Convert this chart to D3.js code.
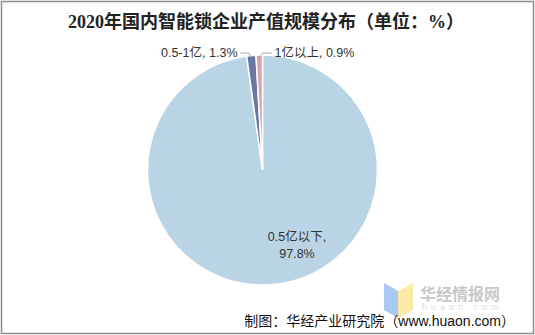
<!DOCTYPE html>
<html>
<head>
<meta charset="utf-8">
<script src="https://cdn.jsdelivr.net/npm/d3@7"></script>
<style>
  body { margin: 0; background: #fff; }
  svg text { font-family: "Liberation Sans", "Noto Sans CJK SC", sans-serif; }
</style>
</head>
<body>
<div id="chart"></div>
<script>
// chart data
let categories = ['0.5亿以下', '0.5-1亿', '1亿以上'];
let shares = [97.8, 1.3, 0.9];
let sliceColors = ['#b9d4e5', '#6b77a3', '#d7a5aa'];

let svgWidth = 535;
let svgHeight = 335;

let svg = d3.select('#chart')
            .append('svg')
            .attr('width', svgWidth)
            .attr('height', svgHeight);

// outer frame
svg.append('rect')
   .attr('x', 1.5).attr('y', 1.5)
   .attr('width', svgWidth - 3).attr('height', svgHeight - 3)
   .attr('fill', '#fff')
   .attr('stroke', '#8c8c8c')
   .attr('stroke-width', 1.5);

// title
svg.append('text')
   .attr('x', 266).attr('y', 28)
   .attr('text-anchor', 'middle')
   .style('font-family', '"Liberation Serif", "Noto Sans CJK SC", serif')
   .style('font-size', '18px')
   .style('font-weight', 'bold')
   .attr('fill', '#222')
   .text('2020年国内智能锁企业产值规模分布（单位：%）');

// watermark
let wm = svg.append('g');
wm.append('path').attr('d', 'M384,283 L398,291 L398,318 L384,310 Z').attr('fill', '#a9c9f5');
wm.append('path').attr('d', 'M398,291 L413,283 L413,310 L398,318 Z').attr('fill', '#fbeaa6');
wm.append('text')
  .attr('x', 420).attr('y', 300)
  .style('font-size', '16px').style('font-weight', 'bold')
  .attr('fill', '#c8c8c8')
  .text('华经情报网');
wm.append('text')
  .attr('x', 422).attr('y', 310)
  .style('font-size', '9px')
  .style('letter-spacing', '4px')
  .attr('fill', '#dcdcdc')
  .text('huaon.com');

let cx = 262.5, cy = 170, radius = 115;

let pie = d3.pie().sort(null).value(d => d);
let arc = d3.arc().innerRadius(0).outerRadius(radius);

let pieGroup = svg.append('g')
                  .attr('transform', `translate(${cx}, ${cy})`);

let arcs = pie(shares);

pieGroup.selectAll('path')
        .data(arcs)
        .enter()
        .append('path')
        .attr('d', arc)
        .attr('fill', (d, i) => sliceColors[i])
        .attr('stroke', '#fff')
        .attr('stroke-width', 1.5);

// label inside the big slice
let big = svg.append('text')
             .attr('text-anchor', 'middle')
             .style('font-size', '12.5px')
             .attr('fill', '#333');
big.append('tspan').attr('x', 297).attr('y', 241).text(categories[0] + ',');
big.append('tspan').attr('x', 297).attr('y', 258).text(shares[0] + '%');

// outside labels with leader lines
let outer = d3.arc().innerRadius(radius - 2).outerRadius(radius - 2);
let leaders = [
  {i: 1, elbow: [-14, -117], end: [-22, -117], anchor: 'end', tx: -25},
  {i: 2, elbow: [0, -117], end: [9, -117], anchor: 'start', tx: 12}
];
leaders.forEach(l => {
  let p = outer.centroid(arcs[l.i]);
  pieGroup.append('polyline')
          .attr('points', [p, l.elbow, l.end].map(q => q.join(',')).join(' '))
          .attr('fill', 'none')
          .attr('stroke', '#a6a6a6')
          .attr('stroke-width', 1);
  pieGroup.append('text')
          .attr('x', l.tx).attr('y', -113)
          .attr('text-anchor', l.anchor)
          .style('font-size', '12.5px')
          .attr('fill', '#333')
          .text(categories[l.i] + ', ' + shares[l.i] + '%');
});

// source
svg.append('text')
   .attr('x', 515).attr('y', 326)
   .attr('text-anchor', 'end')
   .style('font-size', '14px')
   .attr('fill', '#111')
   .text('制图：华经产业研究院（www.huaon.com）');
</script>
</body>
</html>
